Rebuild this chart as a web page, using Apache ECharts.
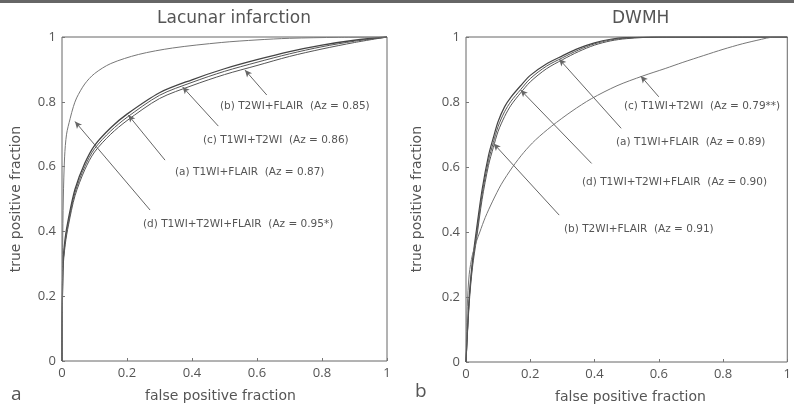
<!DOCTYPE html>
<html>
<head>
<meta charset="utf-8">
<script src="https://cdn.jsdelivr.net/npm/echarts@6/dist/echarts.min.js"></script>
<style>
  html, body { margin: 0; padding: 0; background: #fff; }
  #main { width: 794px; height: 404px; }
</style>
</head>
<body>
<div id="main"></div>
<script>
// ROC curves, [false positive fraction, true positive fraction]
var lacA = [[0,0],[0.003,0.30],[0.01,0.38],[0.02,0.44],[0.04,0.53],[0.07,0.61],[0.1,0.665],[0.15,0.72],[0.2,0.762],[0.3,0.828],[0.4,0.868],[0.5,0.902],[0.6,0.93],[0.7,0.955],[0.8,0.975],[0.9,0.99],[1,1]];
var lacB = [[0,0],[0.003,0.28],[0.01,0.36],[0.02,0.42],[0.04,0.51],[0.07,0.59],[0.1,0.645],[0.15,0.70],[0.2,0.742],[0.3,0.81],[0.4,0.85],[0.5,0.884],[0.6,0.912],[0.7,0.94],[0.8,0.963],[0.9,0.983],[1,1]];
var lacC = [[0,0],[0.003,0.29],[0.01,0.37],[0.02,0.43],[0.04,0.52],[0.07,0.60],[0.1,0.655],[0.15,0.71],[0.2,0.752],[0.3,0.82],[0.4,0.86],[0.5,0.894],[0.6,0.922],[0.7,0.948],[0.8,0.97],[0.9,0.987],[1,1]];
var lacD = [[0,0],[0.002,0.35],[0.004,0.5],[0.008,0.63],[0.014,0.70],[0.025,0.748],[0.035,0.785],[0.045,0.812],[0.07,0.855],[0.1,0.887],[0.15,0.918],[0.235,0.946],[0.34,0.966],[0.49,0.983],[0.6,0.991],[0.7,0.996],[0.85,0.999],[1,1]];

var dwA = [[0,0],[0.01,0.18],[0.02,0.29],[0.033,0.38],[0.05,0.50],[0.07,0.605],[0.085,0.66],[0.1,0.71],[0.12,0.755],[0.14,0.79],[0.17,0.828],[0.2,0.862],[0.25,0.902],[0.3,0.93],[0.35,0.955],[0.4,0.975],[0.45,0.988],[0.5,0.995],[0.6,1],[1,1]];
var dwB = [[0,0],[0.01,0.20],[0.02,0.31],[0.033,0.41],[0.05,0.53],[0.07,0.635],[0.085,0.69],[0.1,0.74],[0.12,0.785],[0.14,0.815],[0.17,0.85],[0.2,0.882],[0.25,0.917],[0.3,0.942],[0.35,0.965],[0.4,0.982],[0.45,0.993],[0.5,0.998],[0.6,1],[1,1]];
var dwC = [[0,0],[0.004,0.17],[0.01,0.27],[0.02,0.33],[0.032,0.37],[0.043,0.40],[0.06,0.445],[0.083,0.495],[0.11,0.547],[0.145,0.60],[0.18,0.645],[0.216,0.683],[0.267,0.726],[0.33,0.772],[0.39,0.81],[0.47,0.85],[0.55,0.88],[0.62,0.903],[0.675,0.922],[0.74,0.943],[0.8,0.962],[0.86,0.979],[0.92,0.993],[0.95,0.999],[1,1]];
var dwD = [[0,0],[0.01,0.19],[0.02,0.30],[0.033,0.395],[0.05,0.515],[0.07,0.62],[0.085,0.675],[0.1,0.725],[0.12,0.77],[0.14,0.802],[0.17,0.838],[0.2,0.872],[0.25,0.91],[0.3,0.936],[0.35,0.96],[0.4,0.979],[0.45,0.991],[0.5,0.997],[0.6,1],[1,1]];

// arrows: [tail, tip] in data coords
var lacArrows = [
  [[0.63,0.821],[0.563,0.898]],
  [[0.481,0.725],[0.371,0.846]],
  [[0.317,0.62],[0.204,0.759]],
  [[0.271,0.466],[0.04,0.739]]
];
var dwArrows = [
  [[0.60,0.816],[0.544,0.88]],
  [[0.483,0.719],[0.29,0.932]],
  [[0.391,0.611],[0.17,0.837]],
  [[0.29,0.452],[0.086,0.672]]
];

var lacLabels = ['(b) T2WI+FLAIR  (Az = 0.85)', '(c) T1WI+T2WI  (Az = 0.86)', '(a) T1WI+FLAIR  (Az = 0.87)', '(d) T1WI+T2WI+FLAIR  (Az = 0.95*)'];
var dwLabels = ['(c) T1WI+T2WI  (Az = 0.79**)', '(a) T1WI+FLAIR  (Az = 0.89)', '(d) T1WI+T2WI+FLAIR  (Az = 0.90)', '(b) T2WI+FLAIR  (Az = 0.91)'];

var FONT = 'DejaVu Sans';
var TFONT = 'Open Sans';

var chart = echarts.init(document.getElementById('main'));

function axisOpt(idx) {
  return {
    gridIndex: idx, type: 'value', min: 0, max: 1, interval: 0.2,
    axisLine: { show: false },
    axisTick: { inside: true, length: 3, lineStyle: { color: '#777' } },
    splitLine: { show: false },
    axisLabel: { color: '#555', fontSize: 13, fontFamily: TFONT, margin: 6 }
  };
}
function curve(data, idx, color, width) {
  return {
    type: 'line', data: data, xAxisIndex: idx, yAxisIndex: idx,
    showSymbol: false, smooth: 0.3,
    lineStyle: { color: color, width: width },
    silent: true
  };
}
function arrows(list) {
  return {
    silent: true, symbol: ['none', 'arrow'], symbolSize: [5, 7],
    label: { show: false },
    lineStyle: { color: '#666', width: 1, type: 'solid' },
    data: list.map(function (a) { return [{ coord: a[0] }, { coord: a[1] }]; })
  };
}
function text(x, y, str, size, font) {
  return {
    type: 'text', left: x, top: y,
    style: { text: str, fill: '#555', font: size + 'px "' + (font || FONT) + '"' }
  };
}

var s0 = curve(lacA, 0, '#444', 1.3);
s0.markLine = arrows(lacArrows);
var s4 = curve(dwA, 1, '#555', 1);
s4.markLine = arrows(dwArrows);

var option = {
  animation: false,
  backgroundColor: '#fff',
  grid: [
    { left: 62, top: 37, width: 325, height: 324, show: true, borderColor: '#666', borderWidth: 1, backgroundColor: 'transparent' },
    { left: 466, top: 37, width: 327, height: 325, show: true, borderColor: '#666', borderWidth: 1, backgroundColor: 'transparent' }
  ],
  xAxis: [axisOpt(0), axisOpt(1)],
  yAxis: [axisOpt(0), axisOpt(1)],
  series: [
    s0,
    curve(lacB, 0, '#555', 1),
    curve(lacC, 0, '#555', 1),
    curve(lacD, 0, '#777', 1),
    s4,
    curve(dwB, 1, '#444', 1.2),
    curve(dwC, 1, '#777', 1),
    curve(dwD, 1, '#555', 1)
  ],
  graphic: [
    { type: 'rect', left: 0, top: 0, shape: { width: 794, height: 3 }, style: { fill: '#666' } },
    text(157, 10, 'Lacunar infarction', 17, FONT),
    text(612, 10, 'DWMH', 17, FONT),
    text(220, 101, lacLabels[0], 10.5),
    text(203, 135, lacLabels[1], 10.5),
    text(175, 167, lacLabels[2], 10.5),
    text(143, 219, lacLabels[3], 10.5),
    text(624, 101, dwLabels[0], 10.5),
    text(616, 137, dwLabels[1], 10.5),
    text(582, 177, dwLabels[2], 10.5),
    text(564, 224, dwLabels[3], 10.5),
    text(145, 389, 'false positive fraction', 14),
    text(555, 390, 'false positive fraction', 14),
    text(11, 385, 'a', 19, TFONT),
    text(415, 382, 'b', 19, TFONT),
    { type: 'text', left: 9, top: 126, rotation: Math.PI / 2,
      style: { text: 'true positive fraction', fill: '#555', font: '14px "' + FONT + '"' } },
    { type: 'text', left: 410, top: 126, rotation: Math.PI / 2,
      style: { text: 'true positive fraction', fill: '#555', font: '14px "' + FONT + '"' } }
  ]
};
chart.setOption(option);
</script>
</body>
</html>
